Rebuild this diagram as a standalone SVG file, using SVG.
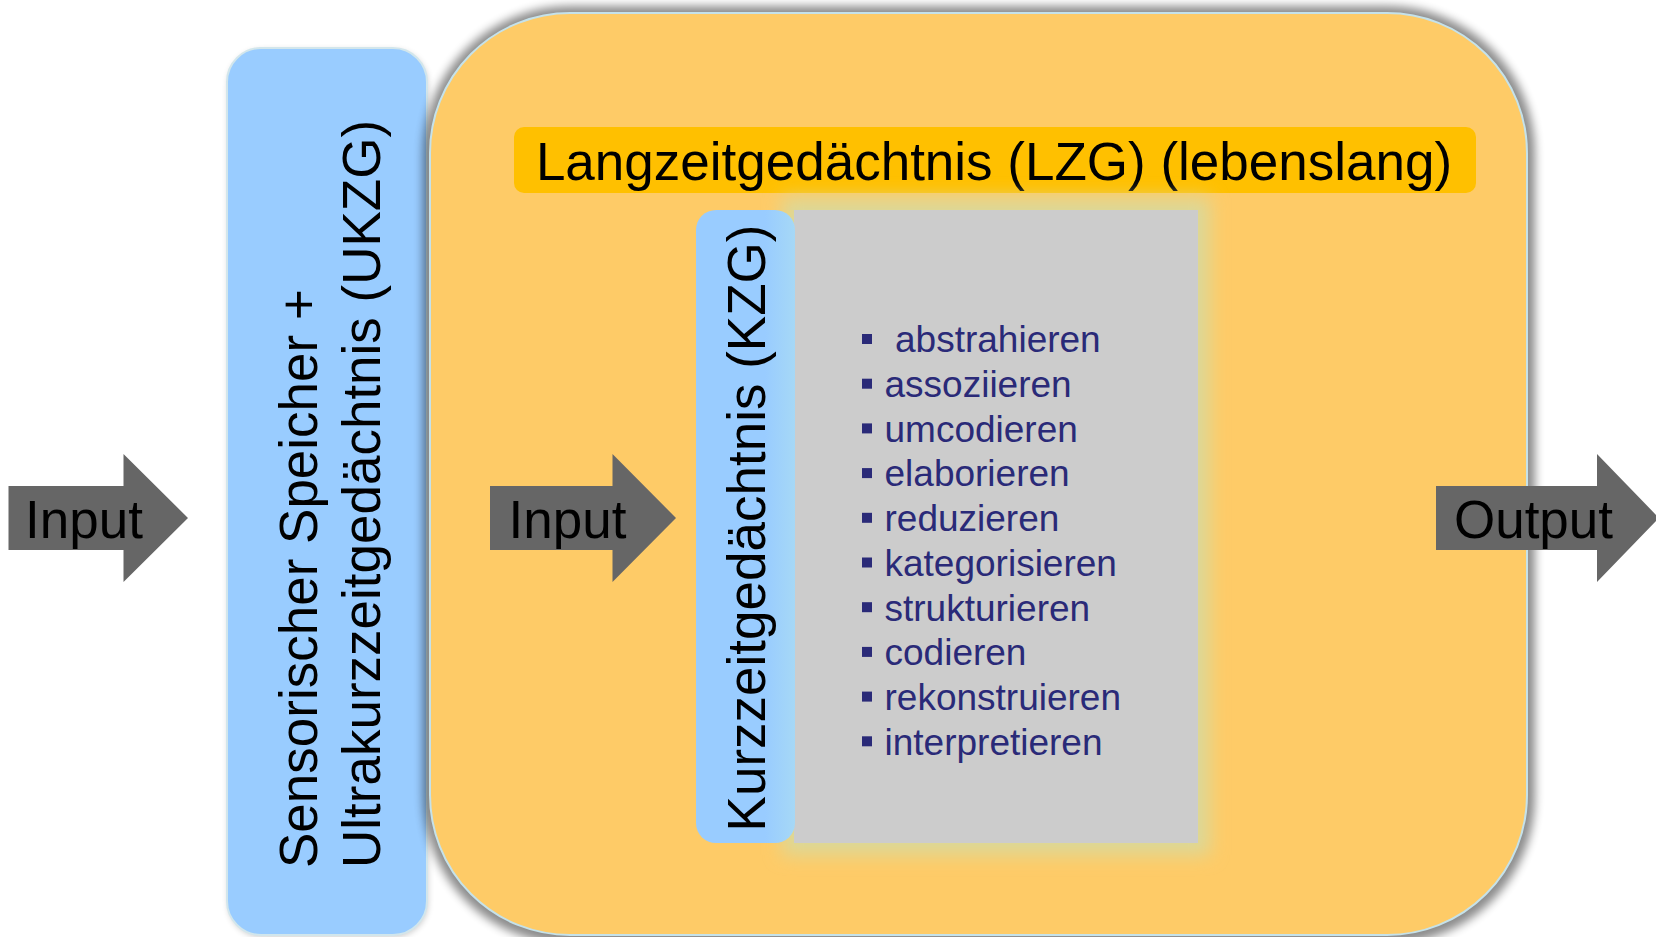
<svg xmlns="http://www.w3.org/2000/svg" width="1656" height="937" viewBox="0 0 1656 937">
  <defs>
    <style>
      .t { font-family: "Liberation Sans", Arial, sans-serif; fill: #000; }
      .big { font-size: 53px; }
      .arrow { fill: #666666; }
      .li { font-family: "Liberation Sans", Arial, sans-serif; font-size: 37px; fill: #2a2a78; }
      .bul { fill: #2a2a78; }
    </style>
    <filter id="blurSh" filterUnits="userSpaceOnUse" x="380" y="-40" width="1220" height="1030">
      <feGaussianBlur stdDeviation="5"/>
    </filter>
    <filter id="blurShB" filterUnits="userSpaceOnUse" x="200" y="20" width="260" height="950">
      <feGaussianBlur stdDeviation="3"/>
    </filter>
    <filter id="glow" x="-20%" y="-20%" width="140%" height="140%">
      <feGaussianBlur stdDeviation="9"/>
    </filter>
    <linearGradient id="kzgGrad" x1="0" y1="0" x2="1" y2="0">
      <stop offset="0" stop-color="#99CCFF"/>
      <stop offset="0.7" stop-color="#99CCFF"/>
      <stop offset="1" stop-color="#A6D8F6"/>
    </linearGradient>
  </defs>

  <g id="ukzg">
    <rect x="228" y="50" width="200" height="887" rx="34" ry="34" fill="#000" opacity="0.2" filter="url(#blurShB)"/>
    <rect x="227" y="48" width="200" height="887" rx="34" ry="34" fill="#99CCFF" stroke="#D2E6EC" stroke-width="2"/>
    <text class="t big" transform="translate(317,868) rotate(-90)">Sensorischer Speicher +</text>
    <text class="t big" transform="translate(380,868) rotate(-90)">Ultrakurzzeitgedächtnis (UKZG)</text>
  </g>

  <g id="lzg">
    <rect x="423" y="6" width="1112" height="938" rx="147" ry="147" fill="#000" opacity="0.45" filter="url(#blurSh)"/>
    <rect x="430" y="13" width="1097" height="922" rx="140" ry="140" fill="#FECB67" stroke="#C5E2EA" stroke-width="2"/>
  </g>

  <g id="lzg-title">
    <rect x="514" y="127" width="962" height="66" rx="10" ry="10" fill="#FFC000"/>
    <text class="t big" x="994" y="180" text-anchor="middle">Langzeitgedächtnis (LZG) (lebenslang)</text>
  </g>

  <g id="kzg-list">
    <rect x="782" y="198" width="428" height="657" fill="#DCD898" filter="url(#glow)"/>
    <rect x="794" y="210" width="404" height="633" fill="#CCCCCC"/>
    <rect class="bul" x="862" y="334" width="10" height="10"/>
    <text class="li" x="895" y="352.3">abstrahieren</text>
    <rect class="bul" x="862" y="378.7" width="10" height="10"/>
    <text class="li" x="884.5" y="397">assoziieren</text>
    <rect class="bul" x="862" y="423.4" width="10" height="10"/>
    <text class="li" x="884.5" y="441.7">umcodieren</text>
    <rect class="bul" x="862" y="468.1" width="10" height="10"/>
    <text class="li" x="884.5" y="486.4">elaborieren</text>
    <rect class="bul" x="862" y="512.8" width="10" height="10"/>
    <text class="li" x="884.5" y="531.1">reduzieren</text>
    <rect class="bul" x="862" y="557.5" width="10" height="10"/>
    <text class="li" x="884.5" y="575.8">kategorisieren</text>
    <rect class="bul" x="862" y="602.2" width="10" height="10"/>
    <text class="li" x="884.5" y="620.5">strukturieren</text>
    <rect class="bul" x="862" y="646.9" width="10" height="10"/>
    <text class="li" x="884.5" y="665.2">codieren</text>
    <rect class="bul" x="862" y="691.6" width="10" height="10"/>
    <text class="li" x="884.5" y="709.9">rekonstruieren</text>
    <rect class="bul" x="862" y="736.3" width="10" height="10"/>
    <text class="li" x="884.5" y="754.6">interpretieren</text>
  </g>

  <g id="kzg">
    <rect x="696" y="210" width="99" height="633" rx="20" ry="20" fill="url(#kzgGrad)"/>
    <text class="t big" text-anchor="middle" transform="translate(765,528) rotate(-90)">Kurzzeitgedächtnis (KZG)</text>
  </g>

  <g id="connectors">
    <g id="input1">
      <path class="arrow" d="M8.5,486 H123.5 V454 L188,518 L123.5,582 V550 H8.5 Z"/>
      <text class="t big" x="84" y="538" text-anchor="middle">Input</text>
    </g>
    <g id="input2">
      <path class="arrow" d="M490,486 H612.5 V454 L676,518 L612.5,582 V550 H490 Z"/>
      <text class="t big" x="567.5" y="538" text-anchor="middle">Input</text>
    </g>
    <g id="output">
      <path class="arrow" d="M1436,486 H1597 V454 L1659,518 L1597,582 V550 H1436 Z"/>
      <text class="t big" x="1533.5" y="538" text-anchor="middle">Output</text>
    </g>
  </g>
</svg>
